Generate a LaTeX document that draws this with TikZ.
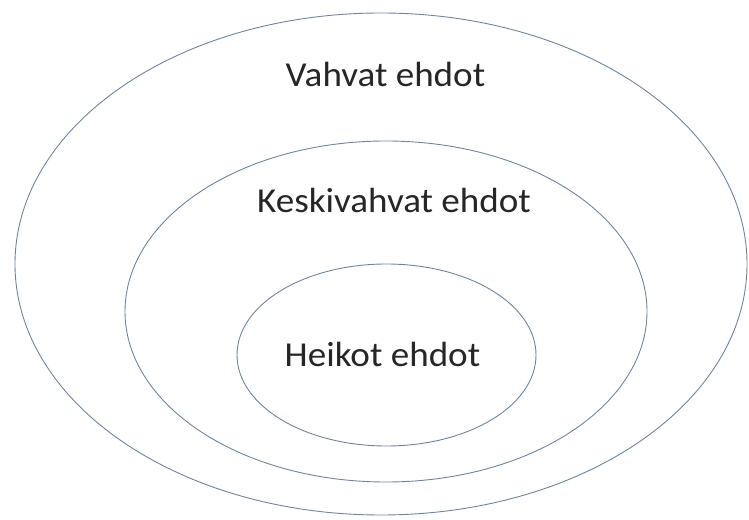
\documentclass[tikz,border=0pt]{standalone}
\usepackage{fontspec}
\setmainfont{Carlito}
\usetikzlibrary{shapes.geometric}
\definecolor{rimline}{RGB}{112,132,156}
\definecolor{labeltext}{RGB}{38,38,38}
\tikzset{
  ring/.style={draw=rimline, line width=0.9pt, ellipse, inner sep=0pt},
  label/.style={text=labeltext, font=\fontsize{35}{40}\selectfont, anchor=base, inner sep=0pt, xscale=1.06}
}
\begin{document}
\begin{tikzpicture}[x=1pt,y=1pt]
  \useasboundingbox (0,0) rectangle (749,519);
  % nested conditions: strong, medium, weak
  \node[ring, minimum width=732pt, minimum height=502pt] (outer) at (381,255) {};
  \node[ring, minimum width=522pt, minimum height=341pt] (middle) at (386,207.5) {};
  \node[ring, minimum width=299pt, minimum height=182pt] (inner) at (386.5,164) {};
  \node[label] (strong) at (385.5,432) {Vahvat ehdot};
  \node[label] (medium) at (394,306) {Keskivahvat ehdot};
  \node[label] (weak) at (382.5,152) {Heikot ehdot};
\end{tikzpicture}
\end{document}
